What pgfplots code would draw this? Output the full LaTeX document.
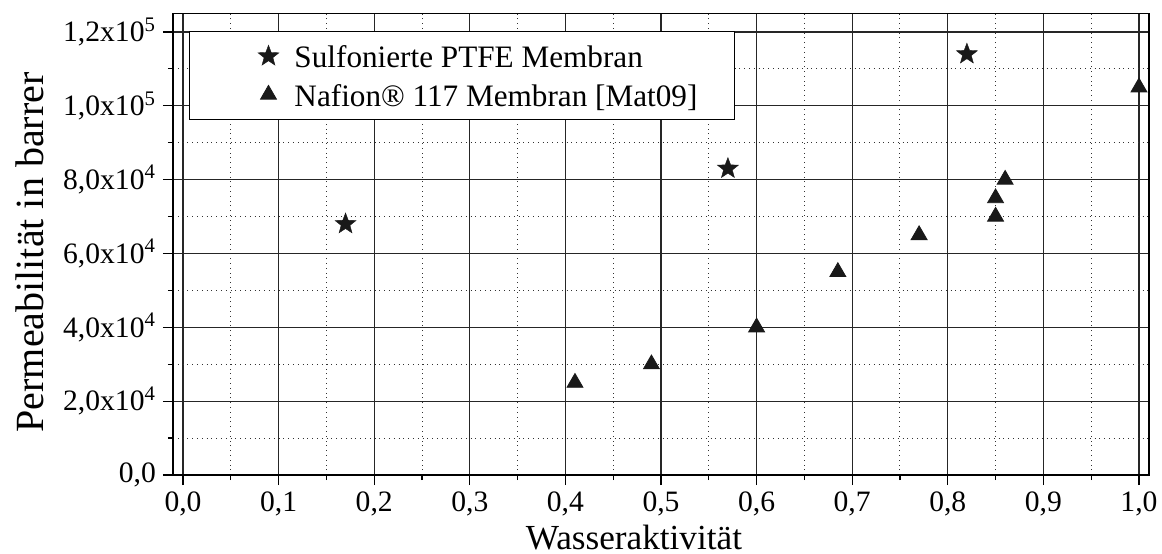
\documentclass[border=0pt]{standalone}
\usepackage{pgfplots}
\pgfplotsset{compat=1.18}
\usepackage{fontspec}
\setmainfont{Liberation Serif}

\pgfdeclareplotmark{fstar}{%
  \pgfpathmoveto{\pgfpointpolar{90}{\pgfplotmarksize}}%
  \pgfpathlineto{\pgfpointpolar{126}{0.42\pgfplotmarksize}}%
  \pgfpathlineto{\pgfpointpolar{162}{\pgfplotmarksize}}%
  \pgfpathlineto{\pgfpointpolar{198}{0.42\pgfplotmarksize}}%
  \pgfpathlineto{\pgfpointpolar{234}{\pgfplotmarksize}}%
  \pgfpathlineto{\pgfpointpolar{270}{0.42\pgfplotmarksize}}%
  \pgfpathlineto{\pgfpointpolar{306}{\pgfplotmarksize}}%
  \pgfpathlineto{\pgfpointpolar{342}{0.42\pgfplotmarksize}}%
  \pgfpathlineto{\pgfpointpolar{18}{\pgfplotmarksize}}%
  \pgfpathlineto{\pgfpointpolar{54}{0.42\pgfplotmarksize}}%
  \pgfpathclose\pgfusepathqfillstroke}

\begin{document}
\begin{tikzpicture}
\begin{axis}[
  at={(0,0)}, anchor=south west,
  scale only axis, width=488pt, height=230.75pt,
  xmin=-0.0105, xmax=1.0105, ymin=0, ymax=125000,
  xtick={0,0.1,0.2,0.3,0.4,0.5,0.6,0.7,0.8,0.9,1.0},
  xticklabels={{0,0},{0,1},{0,2},{0,3},{0,4},{0,5},{0,6},{0,7},{0,8},{0,9},{1,0}},
  ytick={0,20000,40000,60000,80000,100000,120000},
  yticklabels={{0,0},{2,0x10\textsuperscript{4}},{4,0x10\textsuperscript{4}},{6,0x10\textsuperscript{4}},{8,0x10\textsuperscript{4}},{1,0x10\textsuperscript{5}},{1,2x10\textsuperscript{5}}},
  scaled y ticks=false, scaled x ticks=false,
  minor x tick num=1, minor y tick num=1,
  grid=both,
  major grid style={black!85, line width=0.6pt},
  minor grid style={black!80, dotted, line width=0.5pt},
  tick align=outside, xtick pos=left, ytick pos=left,
  major tick length=5pt, minor tick length=2.5pt,
  tick style={black, line width=0.6pt},
  axis line style={black, line width=0.7pt},
  ticklabel style={font=\fontsize{14.8}{16}\selectfont},
  xlabel={Wasseraktivität}, ylabel={Permeabilität in barrer},
  xlabel style={font=\fontsize{17.6}{20}\selectfont, at={(axis description cs:0.4723,0)}, anchor=base, yshift=-37pt},
  ylabel style={font=\fontsize{20}{22}\selectfont, at={(axis description cs:-0.1322,0.4821)}, anchor=base},
  legend cell align=left,
  legend image code/.code={\path (-20.9pt,0pt) (6.5pt,0pt); \draw[#1] plot coordinates {(0pt,0pt)};},
  legend style={at={(0.0167,0.9621)}, anchor=north west, draw=black, fill=white,
    font=\fontsize{15.6}{18}\selectfont, inner xsep=18.3pt, inner ysep=6.65pt,
    row sep=7.7pt, column sep=6.3pt,
    nodes={inner sep=0pt, text height=11.5pt, text depth=0pt}},
]
\addplot[only marks, mark=fstar, mark size=5.5pt, mark options={fill=black!90, draw=black!90, line width=0.2pt}, black]
  coordinates {(0.17,68000) (0.57,83000) (0.82,114000)};
\addlegendentry{Sulfonierte PTFE Membran}
\addplot[only marks, mark=triangle*, mark size=4.6pt, mark options={fill=black!90, draw=black!90}, black]
  coordinates {(0.41,25000) (0.49,30000) (0.60,40000) (0.685,55000) (0.77,65000) (0.85,70000) (0.85,75000) (0.86,80000) (1.0,105000)};
\addlegendentry{Nafion® 117 Membran [Mat09]}
\end{axis}
\pgfresetboundingbox
\path[use as bounding box] (-86.5pt,-39pt) rectangle (494.5pt,237.5pt);
\end{tikzpicture}
\end{document}
